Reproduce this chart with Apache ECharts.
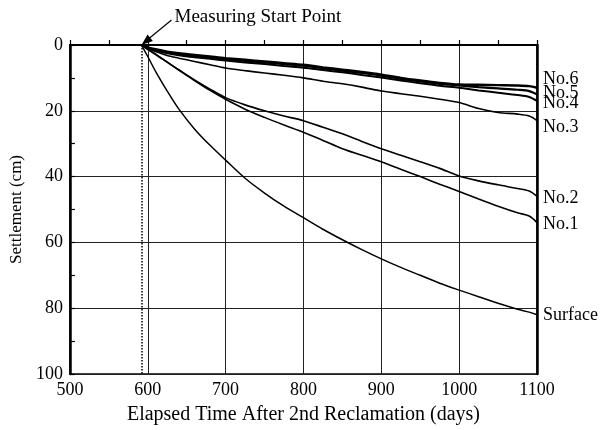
<!DOCTYPE html>
<html>
<head>
<meta charset="utf-8">
<script src="https://cdn.jsdelivr.net/npm/echarts@6/dist/echarts.min.js"></script>
<style>
  html, body { margin: 0; padding: 0; background: #fff; }
  #chart { width: 612px; height: 430px; }
</style>
</head>
<body>
<div id="chart"></div>
<script>
  // elapsed days (shared sample points for every curve)
  var days = [592, 600, 610, 625, 640, 660, 680, 700, 725, 750, 775, 800, 825, 850, 875, 900, 925, 950, 975, 1000, 1025, 1050, 1075, 1090, 1100];

  // settlement (cm)
  var surface = [0, 3.5, 8, 14, 19.5, 25.5, 30.5, 35, 40.5, 45, 49, 52.5, 56, 59.2, 62.2, 65, 67.6, 70, 72.4, 74.5, 76.5, 78.5, 80.3, 81.2, 82];
  var no1 = [0, 1.3, 2.8, 5.2, 7.6, 10.8, 13.8, 16.5, 19.5, 22, 24.3, 26.5, 29, 31.5, 33.5, 35.5, 37.8, 40, 42.3, 44.5, 46.8, 49, 51, 52, 54];
  var no2 = [0, 1.3, 2.8, 5.2, 7.6, 10.6, 13.4, 16, 18.2, 20, 21.6, 23, 25, 27, 29.3, 31.5, 33.5, 35.5, 37.5, 39.8, 41.3, 42.5, 43.6, 44.4, 46];
  var no3 = [0, 1, 2, 3.2, 4, 5, 6, 7, 7.8, 8.5, 9.2, 10, 11, 11.8, 12.8, 14, 14.8, 15.6, 16.5, 17.5, 19.3, 20.5, 21, 21.6, 23];
  var no4 = [0, 0.9, 1.7, 2.5, 3.1, 3.7, 4.2, 4.7, 5.3, 5.8, 6.4, 6.9, 7.6, 8.3, 9.1, 9.9, 10.8, 11.6, 12.4, 13, 13.8, 14.5, 15.2, 15.8, 17];
  var no5 = [0, 0.8, 1.5, 2.2, 2.7, 3.3, 3.8, 4.3, 4.8, 5.3, 5.8, 6.3, 7.1, 7.8, 8.5, 9.3, 10.3, 11.1, 11.8, 12.3, 12.8, 13.2, 13.6, 14, 15];
  var no6 = [0, 0.7, 1.3, 2, 2.5, 3, 3.5, 4, 4.5, 5, 5.5, 6, 6.8, 7.5, 8.2, 9, 10, 10.8, 11.5, 12, 12.1, 12.2, 12.3, 12.5, 13];

  var xTicks = [500, 600, 700, 800, 900, 1000, 1100];
  var yTicks = [0, 20, 40, 60, 80, 100];
  var startDay = 592;

  var serif = 'Liberation Serif';

  function pairs(vals) {
    return days.map(function (d, i) { return [d, vals[i]]; });
  }

  function curve(name, vals, width, dy) {
    return {
      name: name,
      type: 'line',
      data: pairs(vals),
      symbol: 'none',
      smooth: 0.3,
      lineStyle: { color: '#000', width: width },
      endLabel: {
        show: true,
        formatter: name,
        color: '#000',
        fontFamily: serif,
        fontSize: 18,
        offset: [-2, dy]
      },
      z: 5
    };
  }

  var chart = echarts.init(document.getElementById('chart'));

  var tickLabel = { fontFamily: serif, fontSize: 18, color: '#000', margin: 7, formatter: function (v) { return String(v); } };

  var option = {
    backgroundColor: '#fff',
    animation: false,
    grid: {
      left: 63, right: 75, top: 45, bottom: 52,
      show: true,
      borderColor: '#000',
      borderWidth: 1.5
    },
    xAxis: {
      type: 'value',
      min: xTicks[0],
      max: xTicks[xTicks.length - 1],
      interval: 100,
      name: 'Elapsed Time After 2nd Reclamation (days)',
      nameLocation: 'middle',
      nameGap: 31,
      nameTextStyle: { fontFamily: serif, fontSize: 20, color: '#000' },
      axisLine: { show: true, lineStyle: { color: '#000', width: 2 } },
      axisTick: { show: true, inside: true, length: 5, lineStyle: { color: '#000', width: 1.2 } },
      minorTick: { show: true, splitNumber: 2, length: 5, lineStyle: { color: '#000', width: 1.2 } },
      axisLabel: tickLabel,
      splitLine: { show: true, lineStyle: { color: '#222', width: 1 } }
    },
    yAxis: [
      {
        type: 'value',
        inverse: true,
        min: yTicks[0],
        max: yTicks[yTicks.length - 1],
        interval: 20,
        name: 'Settlement (cm)',
        nameLocation: 'middle',
        nameGap: 38,
        nameTextStyle: { fontFamily: serif, fontSize: 17, color: '#000' },
        axisLine: { show: true, lineStyle: { color: '#000', width: 2.5 } },
        axisTick: { show: true, inside: true, length: 5, lineStyle: { color: '#000', width: 1.2 } },
        minorTick: { show: true, splitNumber: 2, length: 5, lineStyle: { color: '#000', width: 1.2 } },
        axisLabel: tickLabel,
        splitLine: { show: true, lineStyle: { color: '#222', width: 1 } }
      },
      {
        type: 'value',
        position: 'right',
        inverse: true,
        min: yTicks[0],
        max: yTicks[yTicks.length - 1],
        interval: 20,
        axisLine: { show: true, lineStyle: { color: '#000', width: 2.5 } },
        axisTick: { show: false },
        axisLabel: { show: false },
        splitLine: { show: false }
      }
    ],
    series: [
      curve('Surface', surface, 1.5, 0),
      curve('No.1', no1, 1.6, 2),
      curve('No.2', no2, 1.6, 2),
      curve('No.3', no3, 1.6, 7),
      curve('No.4', no4, 2, 2),
      curve('No.5', no5, 2.2, -1),
      curve('No.6', no6, 2.4, -9),
      {
        name: 'start',
        type: 'line',
        data: [],
        markLine: {
          silent: true,
          symbol: 'none',
          label: { show: false },
          lineStyle: { color: '#000', type: 'dotted', width: 1.5 },
          data: [[{ coord: [startDay, yTicks[0]] }, { coord: [startDay, yTicks[yTicks.length - 1]] }]]
        }
      }
    ]
  };

  chart.setOption(option);

  // annotation arrow pointing at the measuring start point
  var p = chart.convertToPixel({ gridIndex: 0 }, [startDay, 0]);
  var tx = p[0] + 30, ty = p[1] - 25;
  var ang = Math.atan2(p[1] - ty, p[0] - tx);
  var ah = 12;
  chart.setOption({
    graphic: [
      {
        type: 'text',
        left: p[0] + 33,
        top: 8,
        style: { text: 'Measuring Start Point', font: '19px "Liberation Serif"', fill: '#000' }
      },
      {
        type: 'line',
        shape: { x1: tx, y1: ty, x2: p[0] + 2, y2: p[1] - 2 },
        style: { stroke: '#000', lineWidth: 1.2 }
      },
      {
        type: 'polygon',
        shape: {
          points: [
            [p[0], p[1]],
            [p[0] - ah * Math.cos(ang - 0.35), p[1] - ah * Math.sin(ang - 0.35)],
            [p[0] - ah * Math.cos(ang + 0.35), p[1] - ah * Math.sin(ang + 0.35)]
          ]
        },
        style: { fill: '#000' }
      }
    ]
  });
</script>
</body>
</html>
